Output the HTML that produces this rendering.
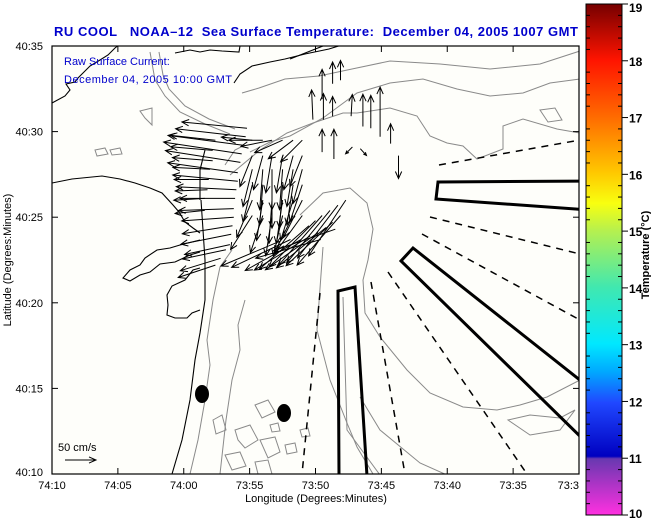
<!DOCTYPE html>
<html><head><meta charset="utf-8">
<style>
html,body{margin:0;padding:0;background:#fff;}
svg{display:block;font-family:"Liberation Sans",sans-serif;}
</style></head>
<body>
<svg id="chart" width="651" height="519" viewBox="0 0 651 519">
<defs>
<linearGradient id="cbar" x1="0" y1="0" x2="0" y2="1">
<stop offset="0" stop-color="#760000"/>
<stop offset="0.11" stop-color="#ff1400"/>
<stop offset="0.22" stop-color="#ff6a00"/>
<stop offset="0.33" stop-color="#ffc800"/>
<stop offset="0.39" stop-color="#f8ff10"/>
<stop offset="0.445" stop-color="#b4f050"/>
<stop offset="0.555" stop-color="#40e8b0"/>
<stop offset="0.665" stop-color="#00e8ff"/>
<stop offset="0.72" stop-color="#00a8ff"/>
<stop offset="0.78" stop-color="#2048ff"/>
<stop offset="0.885" stop-color="#0000c0"/>
<stop offset="0.89" stop-color="#6838b0"/>
<stop offset="1" stop-color="#ff30e0"/>
</linearGradient>
<clipPath id="plotclip"><rect x="52" y="46" width="527" height="428"/></clipPath>
</defs>

<text x="316" y="36" text-anchor="middle" font-size="13" font-weight="bold" fill="#0000cc" textLength="524" xml:space="preserve">RU COOL   NOAA–12  Sea Surface Temperature:  December 04, 2005 1007 GMT</text>

<rect x="52" y="46" width="527" height="428" fill="#fefefa"/>

<g clip-path="url(#plotclip)">
<g fill="none" stroke="#8a8a8a" stroke-width="1">
<path d="M242,93 L259,88 L285,79 L319,76 L352,69 L390,61 L440,64 L490,69 L540,64 L580,51"/>
<path d="M250,152 L270,142 L290,136 L323,118 L357,93 L390,83 L423,79 L457,89 L490,96 L523,93 L550,83 L580,79"/>
<path d="M230,175 L260,150 L287,133 L313,123 L343,113 L357,113 L390,108 L417,116 L430,136 L447,143 L463,146 L477,159 L503,149 L503,126 L523,119 L557,129 L580,133"/>
<path d="M300,215 L323,193 L350,188 L367,203 L373,229 L368,260 L363,280 L365,313 L380,337 L407,370 L430,393 L463,407 L497,410 L520,405 L547,397 L580,380"/>
<path d="M323,247 L317,330 L330,380 L347,423 L357,447 L373,474"/>
<path d="M343,297 L347,430 L380,475"/>
<path d="M360,397 L380,430 L420,463 L447,475"/>
<path d="M159,52 L163,75 L169,89 L185,106 L209,119 L235,129"/>
<path d="M150,52 L155,80 L165,96 L180,112 L205,124 L230,134"/>
<path d="M232,250 L220,267 L213,300 L207,340 L210,365 L205,400 L198,440 L190,474"/>
<path d="M245,300 L238,325 L240,350 L232,380 L226,420 L220,474"/>
<path d="M225,165 L235,150 L245,145"/>
<path d="M540,110 L555,108 L562,120 L548,122 Z"/>
<path d="M508,420 L530,415 L560,418 L575,410 L560,430 L530,435 Z"/>
<path d="M95,150 L105,148 L108,154 L97,156 Z"/>
<path d="M110,150 L120,148 L122,154 L112,155 Z"/>
<path d="M140,111 L152,108 L152,125 L145,118 Z"/>
<path d="M255,405 L268,400 L275,412 L262,418 Z"/>
<path d="M235,430 L250,425 L258,440 L245,448 L238,440 Z"/>
<path d="M260,440 L275,437 L280,452 L268,458 Z"/>
<path d="M225,455 L240,452 L246,466 L232,470 Z"/>
<path d="M285,445 L295,443 L297,452 L287,454 Z"/>
<path d="M255,462 L268,460 L272,474 L258,474 Z"/>
<path d="M300,430 L308,428 L310,436 L302,437 Z"/>
<path d="M213,420 L222,415 L226,430 L216,434 Z"/>
<path d="M270,425 L278,423 L280,431 L272,432 Z"/>
</g>

<g fill="none" stroke="#000" stroke-width="1.1">
<path d="M52,103 L65,96 L70,90 L66,84 L75,82 L78,78 L90,66 L100,60 L108,55 L115,48 L120,44"/>
<path d="M175,53 L190,50 L200,52 L210,50 L222,51 L239,52 L240,46"/>
<path d="M234,83 L240,74 L252,66 L270,62 L285,59 L305,54 L329,49 L345,44"/>
<path d="M52,183 L72,179 L102,176 L120,179 L135,183 L150,188 L162,193 L173,205 L179,212 L185,222 L193,228 L200,233"/>
<path d="M201,200 L203,230 L205,260 L205,300 L200,333 L195,360 L190,400 L182,440 L172,474"/>
<path d="M205,150 L200,170 L200,200"/>
<path d="M200,240 L180,245 L170,248 L157,250 L145,258 L140,265 L130,270 L123,278 L130,281 L140,275 L150,272 L160,264 L175,262 L190,255 L200,252"/>
<path d="M200,268 L193,270 L185,280 L172,286 L167,295 L168,305 L167,315 L175,318 L187,318 L192,313 L200,310"/>
<path d="M290,59 L323,46"/>
</g>

<g fill="none" stroke="#000" stroke-width="1.5" stroke-dasharray="7,6">
<path d="M439,165 L580,140"/>
<path d="M430,217 L580,254"/>
<path d="M422,234 L580,320"/>
<path d="M388,272 L527,474"/>
<path d="M371,282 L405,474"/>
<path d="M320,293 L302,474"/>
</g>
<g fill="none" stroke="#000" stroke-width="3">
<path d="M339,476 L338,291 L355,287 L367,476"/>
<path d="M590,388 L413,248 L401,261 L590,446"/>
<path d="M590,181 L438,182 L436,199 L590,210"/>
</g>
<ellipse cx="202" cy="394" rx="7" ry="9" fill="#000"/>
<ellipse cx="284" cy="413" rx="7" ry="9" fill="#000"/>

<g id="vectors"></g>
</g>

<rect x="52" y="46" width="527" height="428" fill="none" stroke="#000" stroke-width="1.2"/>

<text x="64" y="65" font-size="11" fill="#0000cc">Raw Surface Current:</text>
<text x="64" y="83" font-size="11" fill="#0000cc" textLength="168">December 04, 2005 10:00 GMT</text>

<text x="58" y="451" font-size="11" fill="#000">50 cm/s</text>
<g id="scalearrow"></g>

<g id="axes" font-size="11" fill="#000"></g>

<text x="316" y="502" text-anchor="middle" font-size="11" fill="#000">Longitude (Degrees:Minutes)</text>
<text transform="translate(11,260) rotate(-90)" text-anchor="middle" font-size="11" fill="#000">Latitude (Degrees:Minutes)</text>

<rect x="586" y="4" width="36" height="511" fill="url(#cbar)" stroke="#000" stroke-width="1"/>
<g id="cbaxis" font-size="12" font-weight="bold" fill="#000"></g>
<text transform="translate(649,255) rotate(-90)" text-anchor="middle" font-size="11" font-weight="bold" fill="#000">Temperature (°C)</text>
</svg>

<script>
// Axis tick labels
const lonTicks = ["74:10","74:05","74:00","73:55","73:50","73:45","73:40","73:35","73:3"];
const latTicks = ["40:10","40:15","40:20","40:25","40:30","40:35"];
const tempTicks = [10,11,12,13,14,15,16,17,18,19];

// Vector data: e = minutes east of 74:10W, n = minutes north of 40:10N, u/v in cm/s
const vecE = [14.8,14.7,14.5,14.4,14.3,14.1,14.1,14.0,13.9,13.8,13.8,13.7,13.6,13.5,
  12.4,12.2,12.2,12.0,11.9,11.8,11.6,11.6,13.2,12.8,12.4,
  15.2,16.0,16.7,17.5,18.3,19.0, 15.2,16.0,16.7,17.5,18.3,19.0, 15.2,16.0,16.7,17.5,18.3,19.0,
  15.2,16.0,16.7,17.5,18.3,19.0, 15.2,16.0,16.7,17.5,18.3,19.0, 15.2,16.0,16.7,17.5,18.3,19.0,
  22.3,21.7,21.1,20.5,20.0,19.5,21.9,21.3,20.8,20.2,19.6,18.9,18.1,17.3,21.5,20.4,
  21.3,21.9,20.5,19.8,20.6,21.3,22.7,23.6,24.2,24.9,21.4,20.5,25.7,26.3,22.8,23.4];
const vecN = [20.2,19.7,19.2,18.7,18.2,17.6,17.1,16.6,16.1,15.5,15.0,14.5,14.0,13.4,
  19.5,18.9,18.3,17.8,17.2,16.6,16.1,15.4,13.1,12.6,12.2,
  19.5,19.5,19.5,19.5,19.5,19.5, 18.6,18.6,18.6,18.6,18.6,18.6, 17.8,17.8,17.8,17.8,17.8,17.8,
  16.9,16.9,16.9,16.9,16.9,16.9, 16.0,16.0,16.0,16.0,16.0,16.0, 15.1,15.1,15.1,15.1,15.1,15.1,
  16.0,15.7,15.4,15.1,14.8,14.5,15.1,14.7,14.4,14.1,13.9,13.7,13.7,13.6,14.3,13.7,
  22.8,23.0,21.9,20.7,20.7,20.9,20.9,20.3,20.2,19.7,18.4,18.8,19.3,18.6,19.1,19.0];
const vecU = [-105,-113,-121,-126,-121,-113,-105,-97,-89,-89,-84,-81,-81,-73,
  -73,-68,-65,-60,-56,-52,-50,-48,-70,-65,-60,
  -50,-55,-50,-45,-40,-35, -20,-15,-10,-10,-15,-20, -15,-5,0,-5,-10,-15,
  -15,-5,0,-5,-10,-20, -25,-10,-5,-10,-20,-30, -35,-20,-10,-15,-30,-40,
  -60,-65,-70,-70,-75,-80,-70,-75,-80,-85,-90,-90,-95,-95,-100,-105,
  0,0,0,-2,0,0,2,0,0,0,0,0,0,0,-11,10];
const vecV = [10,13,16,19,19,16,10,5,0,-3,-6,-13,-16,-16,
  8,6,5,3,0,-2,-3,-5,-15,-20,-20,
  5,0,-10,-20,-30,-35, -50,-55,-60,-60,-55,-50, -60,-65,-65,-65,-60,-55,
  -60,-65,-70,-70,-65,-60, -60,-65,-70,-70,-65,-60, -55,-60,-65,-65,-60,-55,
  -90,-85,-85,-80,-75,-70,-80,-70,-65,-60,-55,-50,-45,-40,-35,-30,
  35,32,48,48,42,32,35,52,53,80,48,37,32,-37,-11,-11];
const scaleSpeed = [50];

const X0=52, X1=579, Y0=474, Y1=46;
function xMin(e){ return X0 + e*(X1-X0)/40; }
function yMin(n){ return Y0 - n*(Y0-Y1)/25; }
const PXPERCM = 0.62;
const NS="http://www.w3.org/2000/svg";

function arrow(g, x, y, u, v){
  const dx=u*PXPERCM, dy=-v*PXPERCM;
  const L=Math.hypot(dx,dy); if(L<0.5) return;
  const ux=dx/L, uy=dy/L;
  const hx=x+dx, hy=y+dy, h=Math.min(7,L*0.35), w=h*0.45;
  const p=document.createElementNS(NS,"path");
  p.setAttribute("d",`M${x.toFixed(1)},${y.toFixed(1)} L${hx.toFixed(1)},${hy.toFixed(1)} M${(hx-ux*h+uy*w).toFixed(1)},${(hy-uy*h-ux*w).toFixed(1)} L${hx.toFixed(1)},${hy.toFixed(1)} L${(hx-ux*h-uy*w).toFixed(1)},${(hy-uy*h+ux*w).toFixed(1)}`);
  p.setAttribute("stroke","#000"); p.setAttribute("stroke-width","1"); p.setAttribute("fill","none");
  
  
  g.appendChild(p);
}
const vg=document.getElementById("vectors");
for(let i=0;i<vecE.length;i++) arrow(vg, xMin(vecE[i]), yMin(vecN[i]), vecU[i], vecV[i]);
arrow(document.getElementById("scalearrow"), 65, 460, scaleSpeed[0], 0);

const ag=document.getElementById("axes");
function line(g,x1,y1,x2,y2,name){
  const l=document.createElementNS(NS,"line");
  l.setAttribute("x1",x1);l.setAttribute("y1",y1);l.setAttribute("x2",x2);l.setAttribute("y2",y2);
  l.setAttribute("stroke","#000");l.setAttribute("stroke-width","1");
  
  
  g.appendChild(l);
}
function txt(g,x,y,s,anchor,name){
  const t=document.createElementNS(NS,"text");
  t.setAttribute("x",x);t.setAttribute("y",y);t.setAttribute("text-anchor",anchor);t.textContent=s;
  
  
  g.appendChild(t);
}
lonTicks.forEach((s,i)=>{
  const x=xMin(i*5);
  line(ag,x,Y0,x,Y0-6,'x-tick');
  line(ag,x,Y1,x,Y1+6,'x-tick-top');
  txt(ag,x,489,s,i===lonTicks.length-1?"end":"middle",'x-tick-label');
});
latTicks.forEach((s,i)=>{
  const y=yMin(i*5);
  line(ag,X0,y,X0+6,y,'y-tick');
  line(ag,X1,y,X1-6,y,'y-tick-right');
  txt(ag,43,y+(i===0?2:4),s,"end",'y-tick-label');
});
const cg=document.getElementById("cbaxis");
const CT=4, CB=515;
function yT(t){ return CB - (t-10)*(CB-CT)/9; }
tempTicks.forEach((t,i)=>{
  const y=yT(t);
  line(cg,622,y,628,y,'colorbar-tick');
  txt(cg,629,Math.min(Math.max(y+5,12),518),String(t),"start",'colorbar-tick-label');
  if(i<tempTicks.length-1){
    for(let k=1;k<5;k++){
      const ym=yT(t+k*0.2);
      line(cg,618,ym,622,ym,'colorbar-minor-tick');
      line(cg,586,ym,590,ym,'colorbar-minor-tick-left');
    }
  }
});
</script>
</body></html>
